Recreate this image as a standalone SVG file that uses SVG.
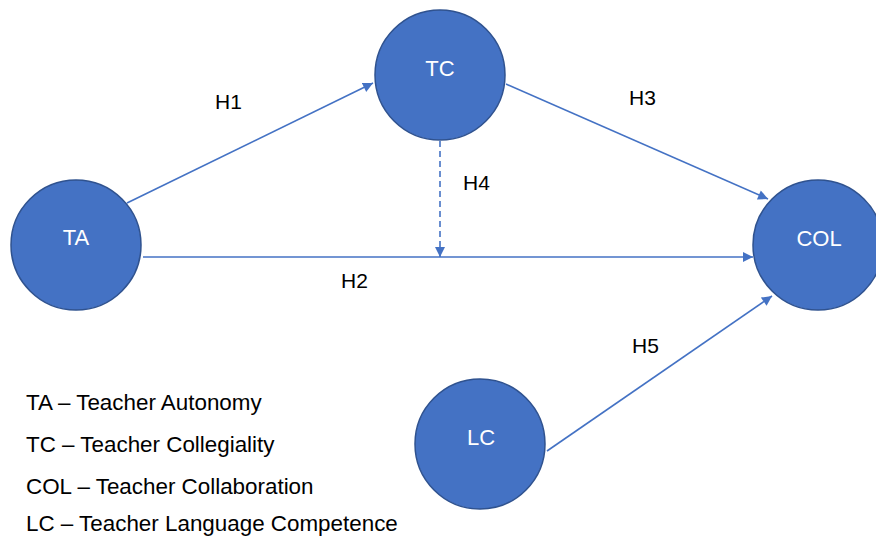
<svg xmlns="http://www.w3.org/2000/svg" width="876" height="536" viewBox="0 0 876 536">
  <defs>
    <marker id="arrow" viewBox="0 0 10 10" refX="10" refY="5" markerWidth="11" markerHeight="10" markerUnits="userSpaceOnUse" orient="auto">
      <path d="M0,0 L10,5 L0,10 Z" fill="#4472C4"/>
    </marker>
    <style>
      .node circle { fill: #4472C4; stroke: #2F528F; stroke-width: 1.5; }
      .node text { fill: #FFFFFF; font-family: "Liberation Sans", Arial, sans-serif; font-size: 22px; text-anchor: middle; }
      .edge { stroke: #4472C4; stroke-width: 1.6; fill: none; marker-end: url(#arrow); }
      .dashed { stroke-dasharray: 6 4; }
      .lbl { font-family: "Liberation Sans", Arial, sans-serif; font-size: 21px; fill: #000000; }
      .legend { font-family: "Liberation Sans", Arial, sans-serif; font-size: 22.4px; fill: #000000; }
    </style>
  </defs>
  <rect width="876" height="536" fill="#FFFFFF"/>

  <g id="connectors">
    <line class="edge" x1="127" y1="203" x2="373" y2="83"/>
    <line class="edge" x1="506" y1="84" x2="768" y2="199"/>
    <line class="edge" x1="143" y1="257" x2="753" y2="257"/>
    <line class="edge dashed" x1="440" y1="141" x2="440" y2="257"/>
    <line class="edge" x1="547" y1="451" x2="772" y2="296"/>
  </g>

  <g id="edge-labels">
    <text class="lbl" x="215" y="109">H1</text>
    <text class="lbl" x="629" y="105">H3</text>
    <text class="lbl" x="463" y="190">H4</text>
    <text class="lbl" x="341" y="288">H2</text>
    <text class="lbl" x="632" y="353">H5</text>
  </g>

  <g id="TC" class="node">
    <circle cx="440" cy="75" r="65"/>
    <text x="440" y="76">TC</text>
  </g>
  <g id="TA" class="node">
    <circle cx="76" cy="245" r="65"/>
    <text x="76" y="245">TA</text>
  </g>
  <g id="COL" class="node">
    <circle cx="818" cy="245" r="65"/>
    <text x="819" y="246">COL</text>
  </g>
  <g id="LC" class="node">
    <circle cx="480" cy="444" r="65"/>
    <text x="481" y="445">LC</text>
  </g>

  <g id="legend">
    <text class="legend" x="26" y="410">TA – Teacher Autonomy</text>
    <text class="legend" x="26" y="452">TC – Teacher Collegiality</text>
    <text class="legend" x="26" y="494">COL – Teacher Collaboration</text>
    <text class="legend" x="26" y="531">LC – Teacher Language Competence</text>
  </g>
</svg>
